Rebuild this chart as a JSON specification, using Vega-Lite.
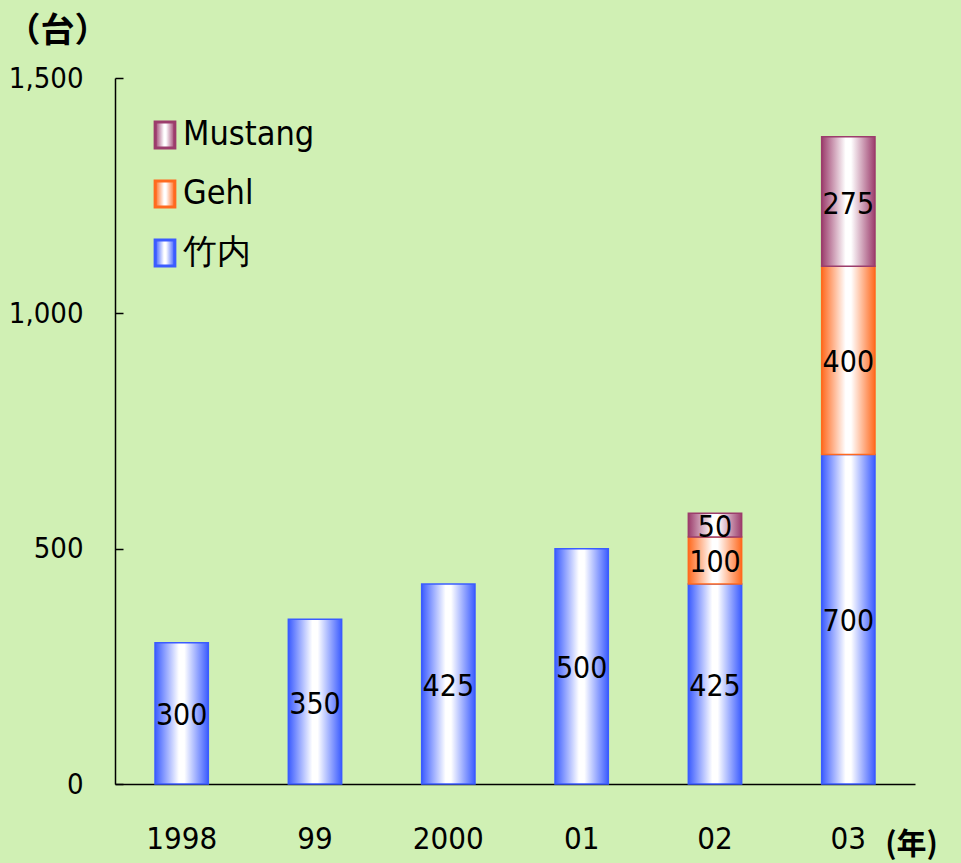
{
  "$schema": "https://vega.github.io/schema/vega-lite/v6.json",
  "width": 800,
  "height": 706,
  "autosize": {"type": "none"},
  "padding": {"left": 115, "top": 78, "right": 46, "bottom": 79},
  "background": "#d0f0b4",
  "config": {"view": {"stroke": null}, "font": "'DejaVu Sans Condensed', 'Liberation Sans', sans-serif"},
  "data": {
    "values": [
      {"year": "1998", "series": "竹内", "order": 1, "value": 300},
      {"year": "99", "series": "竹内", "order": 1, "value": 350},
      {"year": "2000", "series": "竹内", "order": 1, "value": 425},
      {"year": "01", "series": "竹内", "order": 1, "value": 500},
      {"year": "02", "series": "竹内", "order": 1, "value": 425},
      {"year": "02", "series": "Gehl", "order": 2, "value": 100},
      {"year": "02", "series": "Mustang", "order": 3, "value": 50},
      {"year": "03", "series": "竹内", "order": 1, "value": 700},
      {"year": "03", "series": "Gehl", "order": 2, "value": 400},
      {"year": "03", "series": "Mustang", "order": 3, "value": 275}
    ]
  },
  "transform": [
    {"stack": "value", "groupby": ["year"], "sort": [{"field": "order", "order": "ascending"}], "as": ["v0", "v1"]}
  ],
  "layer": [
    {
      "mark": {"type": "bar", "strokeWidth": 1.5},
      "encoding": {
        "x": {
          "field": "year", "type": "nominal",
          "sort": ["1998", "99", "2000", "01", "02", "03"],
          "scale": {"paddingInner": 0.6, "paddingOuter": 0.3},
          "axis": {
            "title": "(年)", "titleX": 796, "titleY": 60, "titleAlign": "center", "titleBaseline": "middle",
            "titleFont": "Noto Sans CJK JP", "titleFontSize": 30, "titleFontWeight": "bold", "titleColor": "black",
            "labelAngle": 0, "ticks": false, "domainColor": "black", "domainWidth": 1.5,
            "labelPadding": 40, "labelFontSize": 31, "labelColor": "black", "labelFont": "'DejaVu Sans Condensed', 'Liberation Sans', sans-serif"
          }
        },
        "y": {
          "field": "v0", "type": "quantitative",
          "scale": {"domain": [0, 1500], "nice": false},
          "axis": {
            "title": "（台）", "titleAngle": 0, "titleX": -58, "titleY": -47, "titleAlign": "center", "titleBaseline": "middle",
            "titleFont": "Noto Sans CJK JP", "titleFontSize": 34, "titleFontWeight": "bold", "titleColor": "black",
            "values": [0, 500, 1000, 1500], "format": ",.0f", "grid": false,
            "domainColor": "black", "domainWidth": 1.5, "tickColor": "black", "tickSize": -8, "tickWidth": 1.5,
            "labelPadding": 40, "labelFontSize": 29, "labelColor": "black", "labelFont": "'DejaVu Sans Condensed', 'Liberation Sans', sans-serif"
          }
        },
        "y2": {"field": "v1"},
        "stroke": {
          "field": "series", "type": "nominal",
          "scale": {"domain": ["Mustang", "Gehl", "竹内"], "range": ["#9c3d6c", "#ff6a1f", "#3b5cff"]},
          "legend": {
            "orient": "none", "legendX": 33, "legendY": 40, "title": null, "padding": 0,
            "symbolType": "M-0.76,-1H0.76V1H-0.76Z", "symbolSize": 676, "symbolStrokeWidth": 3,
            "labelFontSize": 34, "labelFont": "'DejaVu Sans Condensed', 'Liberation Sans', sans-serif",
            "labelColor": "black", "rowPadding": 21, "labelOffset": 1
          }
        },
        "fill": {
          "field": "series", "type": "nominal",
          "scale": {"domain": ["Mustang", "Gehl", "竹内"], "range": [
            {"expr": "{gradient: 'linear', x1: 0, x2: 1, y1: 0, y2: 0, stops: [{offset: 0, color: '#9c3d6c'}, {offset: 0.45, color: '#ffffff'}, {offset: 0.55, color: '#ffffff'}, {offset: 1, color: '#9c3d6c'}]}"},
            {"expr": "{gradient: 'linear', x1: 0, x2: 1, y1: 0, y2: 0, stops: [{offset: 0, color: '#ff6a1f'}, {offset: 0.45, color: '#ffffff'}, {offset: 0.55, color: '#ffffff'}, {offset: 1, color: '#ff6a1f'}]}"},
            {"expr": "{gradient: 'linear', x1: 0, x2: 1, y1: 0, y2: 0, stops: [{offset: 0, color: '#3b5cff'}, {offset: 0.45, color: '#ffffff'}, {offset: 0.55, color: '#ffffff'}, {offset: 1, color: '#3b5cff'}]}"}
          ]},
          "legend": {
            "orient": "none", "legendX": 33, "legendY": 40, "title": null, "padding": 0,
            "symbolType": "M-0.76,-1H0.76V1H-0.76Z", "symbolSize": 676, "symbolStrokeWidth": 3,
            "labelFontSize": 34, "labelFont": "'DejaVu Sans Condensed', 'Liberation Sans', sans-serif",
            "labelColor": "black", "rowPadding": 21, "labelOffset": 1
          }
        }
      }
    },
    {
      "transform": [{"fold": ["v0", "v1"], "as": ["k", "pos"]}],
      "mark": {"type": "text", "fontSize": 30, "baseline": "middle", "dy": 3, "color": "black", "font": "'DejaVu Sans Condensed', 'Liberation Sans', sans-serif"},
      "encoding": {
        "x": {"field": "year", "type": "nominal", "sort": ["1998", "99", "2000", "01", "02", "03"]},
        "y": {"aggregate": "mean", "field": "pos", "type": "quantitative"},
        "detail": {"field": "series"},
        "text": {"field": "value", "type": "quantitative"}
      }
    }
  ]
}
